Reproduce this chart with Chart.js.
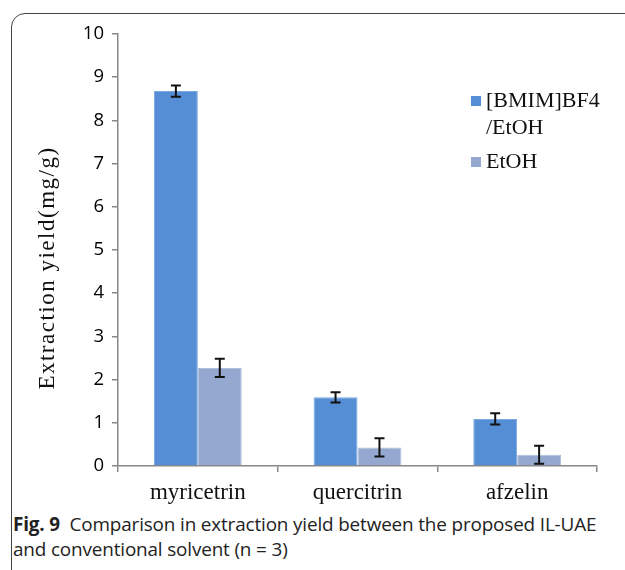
<!DOCTYPE html>
<html><head><meta charset="utf-8">
<script src="https://cdn.jsdelivr.net/npm/chart.js@4"></script>
<style>
html,body{margin:0;padding:0;background:#fff;width:625px;height:570px;overflow:hidden;position:relative;}
#frame{position:absolute;left:11px;top:13px;width:700px;height:700px;border:1.5px solid #444;border-radius:14px;box-sizing:border-box;}
#wrap{position:absolute;left:0;top:0;width:625px;height:510px;}
#cap{position:absolute;left:13px;top:512px;width:612px;font-family:"Open Sans",sans-serif;font-size:18.9px;line-height:25px;color:#222;white-space:nowrap;letter-spacing:-0.15px;}
#cap b{font-weight:700;}
</style></head>
<body>
<div id="frame"></div>
<div id="wrap"><canvas id="c" width="625" height="510"></canvas></div>
<div id="cap"><b>Fig. 9</b>&nbsp; Comparison in extraction yield between the proposed IL-UAE<br>and conventional solvent (n = 3)</div>
<script>
const categories = ["myricetrin", "quercitrin", "afzelin"];
const seriesNames = ["[BMIM]BF4/EtOH", "EtOH"];
const ilValues = [8.68, 1.59, 1.09];
const ilErrors = [0.13, 0.12, 0.13];
const etohValues = [2.27, 0.43, 0.26];
const etohErrors = [0.21, 0.21, 0.21];
const yTicks = [0,1,2,3,4,5,6,7,8,9,10];
const yTitle = "Extraction yield(mg/g)";

const errs = [ilErrors, etohErrors];

const errorBars = {
  id: 'errorBars',
  afterDatasetsDraw(chart) {
    const ctx = chart.ctx, ys = chart.scales.y;
    ctx.save();
    ctx.strokeStyle = '#111';
    ctx.lineWidth = 2;
    chart.data.datasets.forEach((ds, di) => {
      const meta = chart.getDatasetMeta(di);
      meta.data.forEach((bar, i) => {
        const v = ds.data[i], e = errs[di][i];
        const yt = ys.getPixelForValue(v + e), yb = ys.getPixelForValue(v - e);
        const x = bar.x, w = 5;
        ctx.beginPath();
        ctx.moveTo(x, yt); ctx.lineTo(x, yb);
        ctx.moveTo(x - w, yt); ctx.lineTo(x + w, yt);
        ctx.moveTo(x - w, yb); ctx.lineTo(x + w, yb);
        ctx.stroke();
      });
    });
    ctx.restore();
  }
};

const extras = {
  id: 'extras',
  afterDraw(chart) {
    const ctx = chart.ctx;
    ctx.save();
    ctx.translate(48, 268);
    ctx.rotate(-Math.PI / 2);
    ctx.font = '23px "Liberation Serif", serif';
    try { ctx.letterSpacing = '1.5px'; } catch (e) {}
    ctx.fillStyle = '#111';
    ctx.textAlign = 'center';
    ctx.textBaseline = 'middle';
    ctx.fillText(yTitle, 0, 0);
    ctx.restore();
    ctx.save();
    ctx.font = '22px "Liberation Serif", serif';
    ctx.textBaseline = 'middle';
    ctx.textAlign = 'left';
    const cols = chart.data.datasets.map(d => d.backgroundColor);
    ctx.fillStyle = cols[0];
    ctx.fillRect(471, 96, 10, 10);
    ctx.fillStyle = '#111';
    ctx.fillText("[BMIM]BF4", 486, 101);
    ctx.fillText("/EtOH", 486, 128);
    ctx.fillStyle = cols[1];
    ctx.fillRect(471, 157, 10, 10);
    ctx.fillStyle = '#111';
    ctx.fillText("EtOH", 486, 162);
    ctx.restore();
  }
};

new Chart(document.getElementById('c'), {
  type: 'bar',
  data: {
    labels: categories,
    datasets: [
      { label: seriesNames[0], data: ilValues, backgroundColor: '#558ED5', borderColor: '#7AA8E0', borderWidth: 1 },
      { label: seriesNames[1], data: etohValues, backgroundColor: '#95A9D0', borderColor: '#AEBEDC', borderWidth: 1 }
    ]
  },
  options: {
    responsive: false,
    animation: false,
    devicePixelRatio: 1,
    layout: { padding: { left: 0, right: 28, top: 34, bottom: 0 } },
    plugins: { legend: { display: false }, tooltip: { enabled: false } },
    datasets: { bar: { categoryPercentage: 0.55, barPercentage: 1.0 } },
    scales: {
      x: {
        offset: true,
        grid: { offset: true, drawOnChartArea: false, drawTicks: true, tickLength: 6, color: '#888', lineWidth: 1.5 },
        border: { color: '#888', width: 1.5 },
        ticks: { color: '#111', font: { family: '"Liberation Serif", serif', size: 23 }, padding: 7, maxRotation: 0 },
        afterFit(s) { s.height = 44; }
      },
      y: {
        min: 0, max: 10,
        afterBuildTicks(s) { s.ticks = yTicks.map(v => ({ value: v })); },
        grid: { drawOnChartArea: false, drawTicks: true, tickLength: 6, color: '#888', lineWidth: 1.5 },
        border: { color: '#888', width: 1.5 },
        ticks: { color: '#000', font: { family: '"Open Sans", sans-serif', size: 18.5 }, padding: 8 },
        afterFit(s) { s.width = 118; }
      }
    }
  },
  plugins: [errorBars, extras]
});
</script>
</body></html>
